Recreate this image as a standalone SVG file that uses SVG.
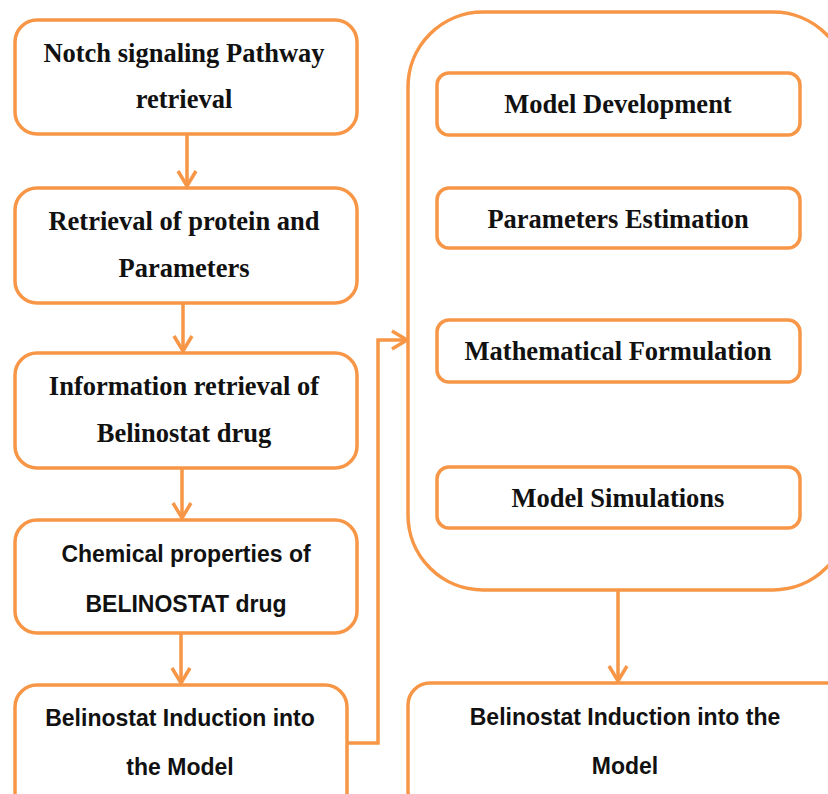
<svg xmlns="http://www.w3.org/2000/svg" width="828" height="794" viewBox="0 0 828 794">
<defs>
<style>
.box{fill:#fff;stroke:#F79646;stroke-width:3.5}
.con{fill:none;stroke:#F79646;stroke-width:3.5}
.s{font-family:"Liberation Serif","Times New Roman",serif;font-weight:bold;font-size:26.5px;fill:#111;text-anchor:middle}
.a{font-family:"Liberation Sans",Arial,sans-serif;font-weight:bold;font-size:23px;fill:#111;text-anchor:middle}
</style>
<marker id="ah" viewBox="0 0 20 22" refX="17" refY="11" markerWidth="20" markerHeight="22" markerUnits="userSpaceOnUse" orient="auto">
<polyline points="2,2 17,11 2,20" fill="none" stroke="#F79646" stroke-width="3.5"/>
</marker>
</defs>
<rect width="828" height="794" fill="#fff"/>
<g id="connectors">
<line class="con" x1="187" y1="134" x2="187" y2="186" marker-end="url(#ah)"/>
<line class="con" x1="183" y1="303" x2="183" y2="351" marker-end="url(#ah)"/>
<line class="con" x1="182" y1="468" x2="182" y2="518" marker-end="url(#ah)"/>
<line class="con" x1="181" y1="633" x2="181" y2="683" marker-end="url(#ah)"/>
<polyline class="con" points="347,743 378,743 378,340 407,340" marker-end="url(#ah)"/>
<line class="con" x1="618" y1="590" x2="618" y2="681" marker-end="url(#ah)"/>
</g>
<g id="n1"><rect class="box" x="15" y="20" width="342" height="114" rx="22"/><text class="s" x="184" y="62">Notch signaling Pathway</text><text class="s" x="184" y="108">retrieval</text></g>
<g id="n2"><rect class="box" x="15" y="188" width="342" height="115" rx="22"/><text class="s" x="184" y="230">Retrieval of protein and</text><text class="s" x="184" y="277">Parameters</text></g>
<g id="n3"><rect class="box" x="15" y="353" width="342" height="115" rx="22"/><text class="s" x="184" y="395">Information retrieval of</text><text class="s" x="184" y="442">Belinostat drug</text></g>
<g id="n4"><rect class="box" x="15" y="520" width="342" height="113" rx="22"/><text class="a" x="186" y="562">Chemical properties of</text><text class="a" x="186" y="612">BELINOSTAT drug</text></g>
<g id="n5"><rect class="box" x="15" y="685" width="332" height="130" rx="22"/><text class="a" x="180" y="726">Belinostat Induction into</text><text class="a" x="180" y="775">the Model</text></g>
<g id="container"><rect class="box" x="408" y="12" width="440" height="578" rx="75"/></g>
<g id="m1"><rect class="box" x="437" y="73" width="363" height="62" rx="12"/><text class="s" x="618" y="113">Model Development</text></g>
<g id="m2"><rect class="box" x="437" y="188" width="363" height="60" rx="12"/><text class="s" x="618" y="228">Parameters Estimation</text></g>
<g id="m3"><rect class="box" x="437" y="320" width="363" height="62" rx="12"/><text class="s" x="618" y="360">Mathematical Formulation</text></g>
<g id="m4"><rect class="box" x="437" y="467" width="363" height="61" rx="12"/><text class="s" x="618" y="507">Model Simulations</text></g>
<g id="n6"><rect class="box" x="408" y="683" width="440" height="130" rx="22"/><text class="a" x="625" y="725">Belinostat Induction into the</text><text class="a" x="625" y="774">Model</text></g>
</svg>
